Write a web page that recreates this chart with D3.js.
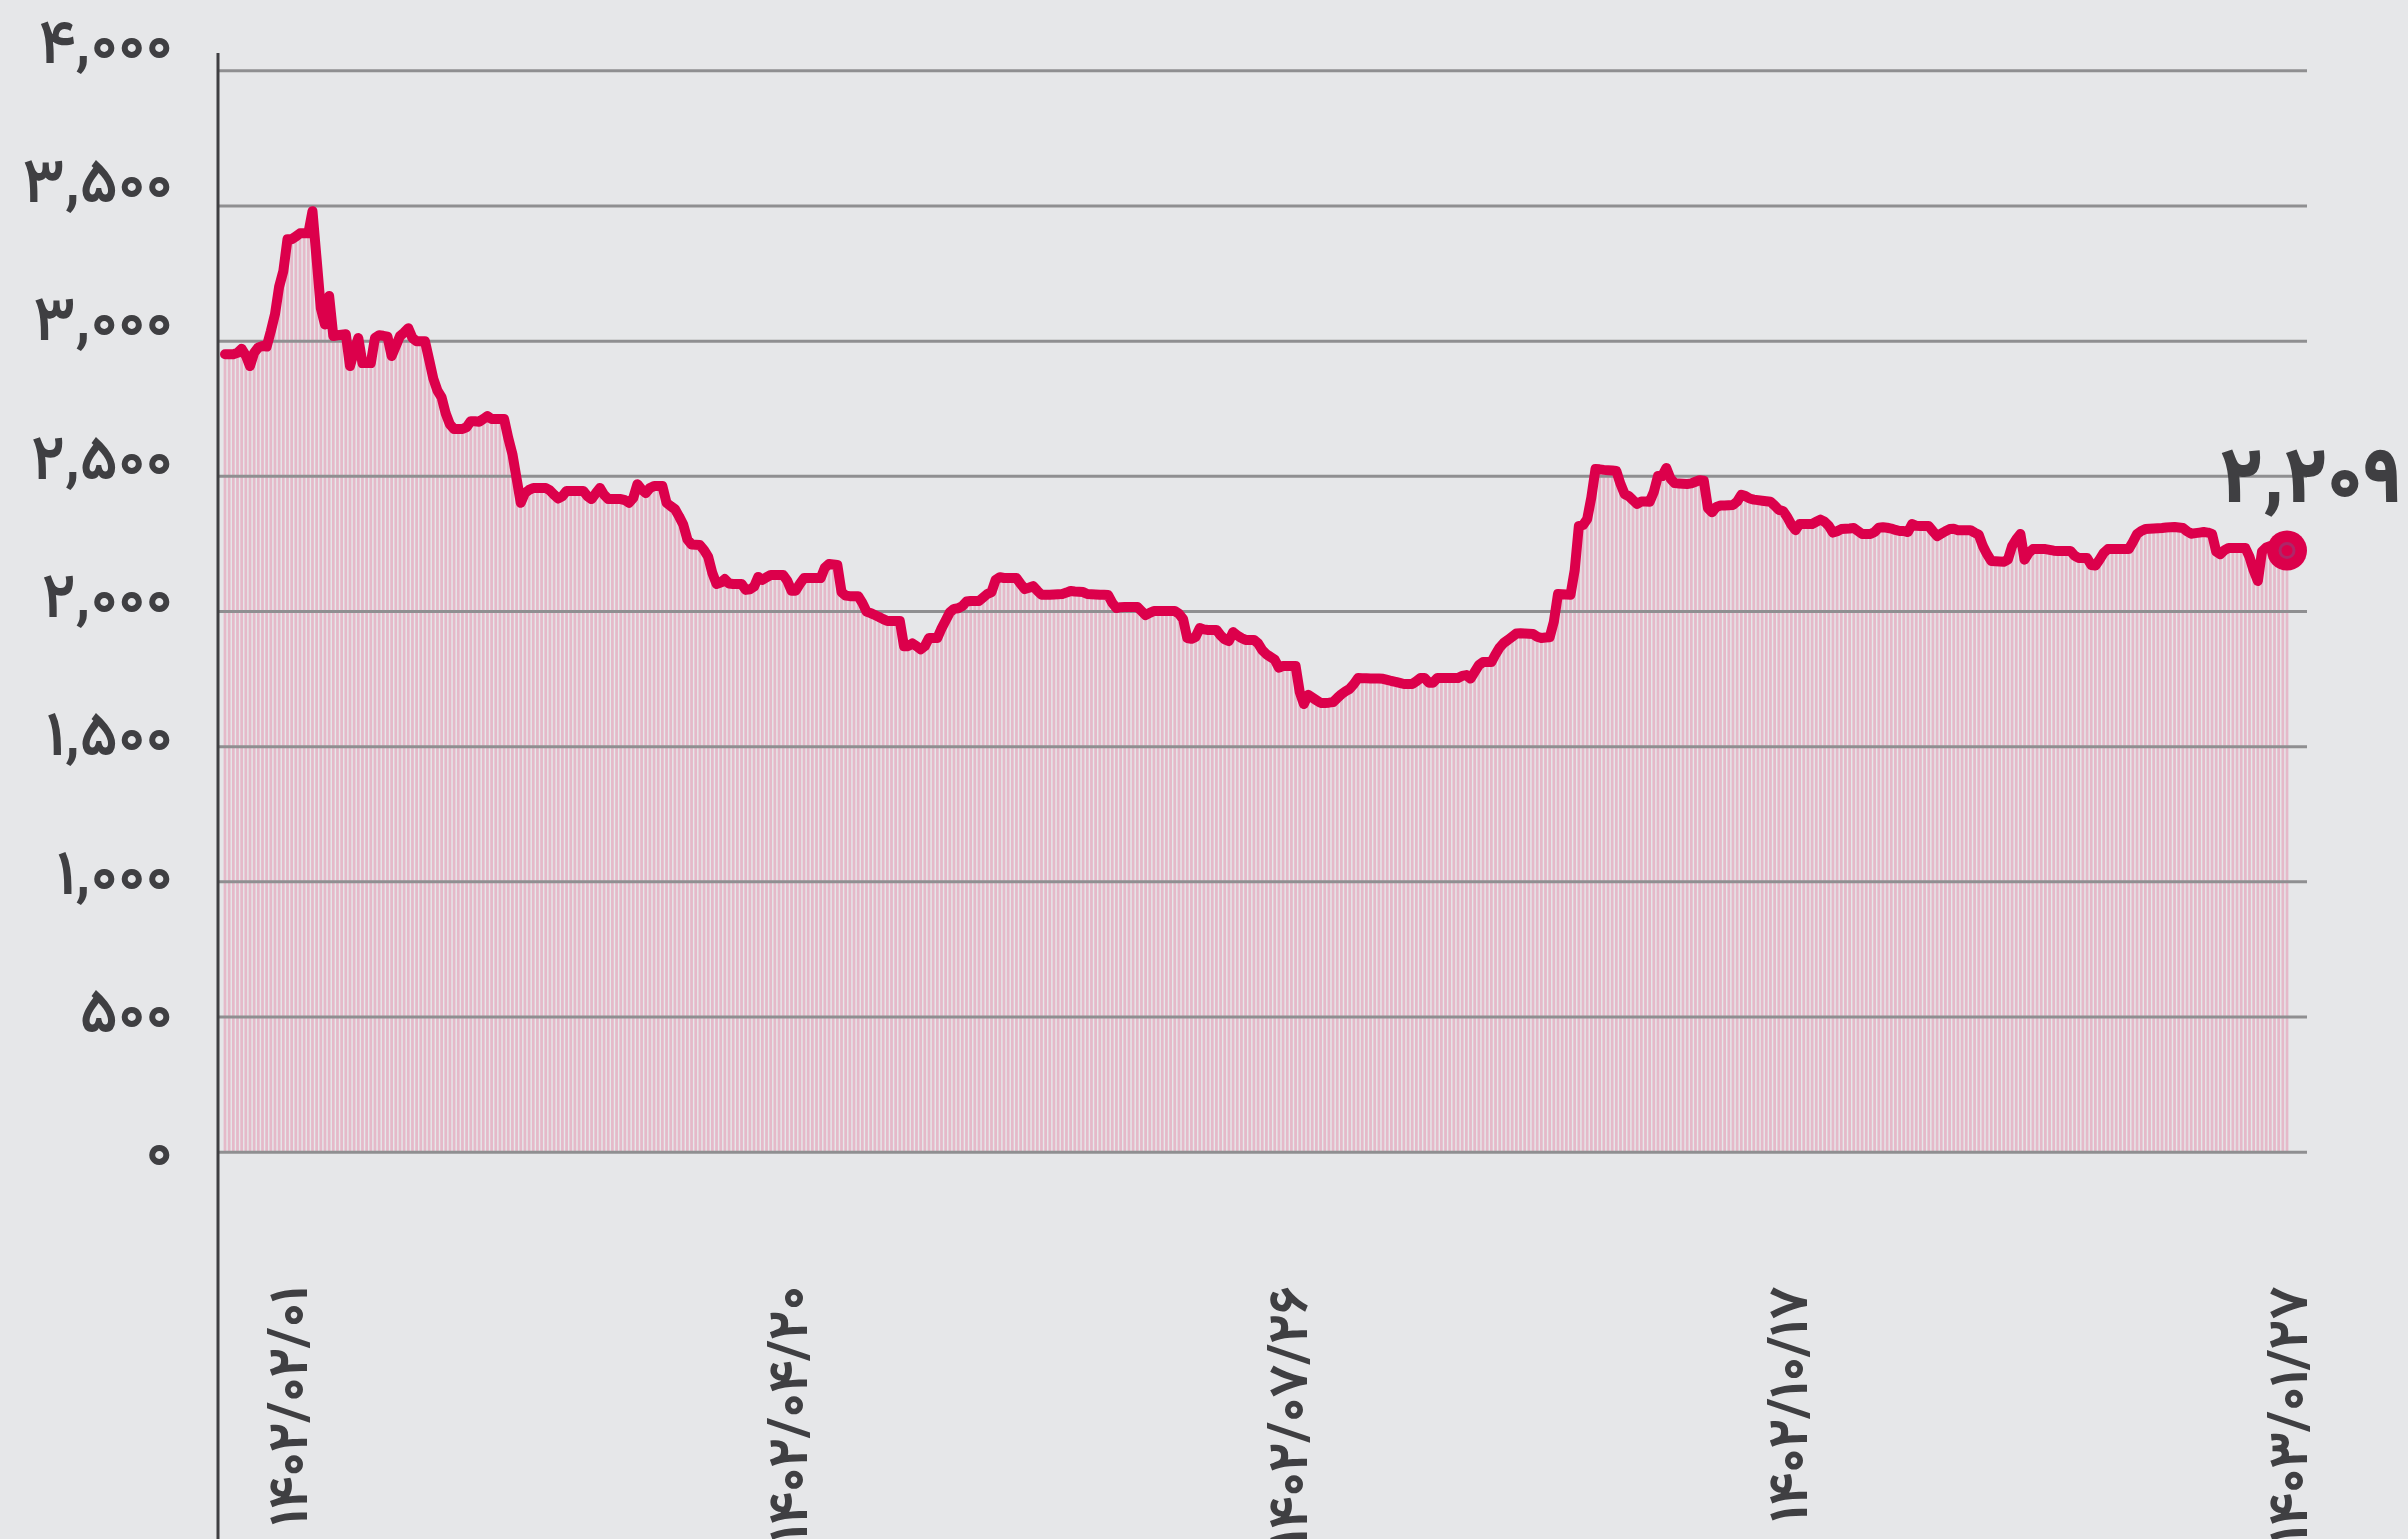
<!DOCTYPE html>
<html><head><meta charset="utf-8">
<script src="https://cdn.jsdelivr.net/npm/d3@7"></script>
<style>
html,body{margin:0;padding:0;background:#e6e7e9;}
svg{display:block;}
</style></head>
<body>
<svg id="chart" width="2408" height="1539"></svg>
<script>
// ---- data ----
const values = [
2950,2950,2950,2955,2970,2945,2906,2955,2975,2980,2978,3035,
3098,3200,3257,3375,3375,3385,3397,3397,3397,3479,3300,3120,
3060,3165,3017,3020,3022,3024,2906,2960,3010,2917,2917,2917,
3010,3020,3018,3015,2943,2980,3017,3030,3046,3010,2998,2998,
2998,2930,2860,2815,2790,2730,2690,2673,2673,2673,2680,2702,
2702,2700,2710,2721,2710,2710,2710,2710,2640,2580,2490,2400,
2436,2448,2455,2455,2455,2455,2446,2430,2416,2425,2444,2444,
2444,2444,2444,2425,2414,2435,2455,2430,2414,2414,2414,2414,
2410,2400,2418,2469,2450,2436,2455,2462,2462,2462,2400,2388,
2377,2350,2320,2265,2246,2245,2244,2225,2200,2140,2100,2105,
2118,2102,2100,2100,2100,2078,2080,2090,2126,2115,2125,2133,
2133,2133,2133,2111,2075,2075,2100,2122,2122,2122,2122,2122,
2160,2174,2172,2170,2070,2057,2055,2055,2055,2030,1998,1992,
1985,1978,1970,1963,1963,1963,1963,1870,1870,1880,1870,1858,
1870,1900,1900,1900,1935,1965,1995,2008,2010,2018,2035,2037,
2037,2037,2050,2063,2070,2115,2125,2122,2122,2122,2122,2100,
2081,2086,2092,2075,2060,2060,2060,2061,2062,2063,2068,2074,
2072,2071,2070,2063,2062,2061,2060,2060,2059,2030,2011,2014,
2015,2015,2015,2015,2000,1985,1993,2000,2000,2000,2000,2000,
2000,1990,1970,1900,1897,1904,1937,1932,1930,1930,1930,1910,
1895,1889,1922,1910,1900,1893,1893,1893,1880,1855,1840,1830,
1820,1790,1797,1797,1797,1797,1700,1656,1690,1680,1670,1660,
1660,1661,1663,1678,1692,1703,1712,1730,1752,1751,1751,1750,
1750,1750,1749,1745,1741,1738,1734,1730,1730,1730,1740,1752,
1752,1735,1735,1752,1752,1752,1752,1752,1752,1760,1763,1750,
1775,1800,1811,1811,1811,1840,1865,1882,1893,1905,1917,1918,
1917,1916,1915,1905,1900,1902,1903,1960,2063,2062,2061,2060,
2150,2314,2318,2340,2420,2525,2524,2522,2521,2520,2518,2470,
2432,2425,2410,2396,2405,2405,2404,2440,2499,2499,2529,2490,
2473,2472,2471,2470,2472,2478,2484,2482,2380,2365,2385,2390,
2390,2391,2392,2405,2430,2425,2416,2412,2410,2408,2406,2404,
2390,2374,2370,2348,2320,2299,2322,2322,2322,2322,2330,2338,
2330,2315,2290,2295,2303,2304,2305,2307,2296,2285,2285,2285,
2292,2308,2310,2308,2305,2300,2296,2296,2292,2322,2315,2314,
2314,2314,2295,2277,2286,2295,2303,2304,2299,2299,2299,2299,
2290,2282,2240,2210,2185,2184,2183,2182,2190,2240,2265,2285,
2190,2215,2229,2229,2229,2229,2226,2223,2222,2222,2222,2222,
2205,2196,2196,2196,2170,2168,2190,2215,2229,2229,2229,2229,
2229,2229,2255,2285,2296,2303,2304,2305,2306,2307,2309,2310,
2311,2309,2307,2295,2286,2288,2290,2292,2290,2285,2220,2210,
2225,2233,2233,2233,2233,2233,2200,2150,2111,2220,2235,2240,
2238,2235,2230,2209
];
const yTickValues = [0,500,1000,1500,2000,2500,3000,3500,4000];
const yTickLabels = ["۰","۵۰۰","۱,۰۰۰","۱,۵۰۰","۲,۰۰۰","۲,۵۰۰","۳,۰۰۰","۳,۵۰۰","۴,۰۰۰"];
const xTickIndex = [15,135,255,375,495];
const xTickLabels = ["۱۴۰۲/۰۲/۰۱","۱۴۰۲/۰۴/۲۰","۱۴۰۲/۰۷/۲۶","۱۴۰۲/۱۰/۱۷","۱۴۰۳/۰۱/۲۷"];
const lastLabel = "۲,۲۰۹";

// ---- layout ----
const svg = d3.select("#chart");
const axisX = 218, gridRight = 2307;
const x = d3.scaleLinear().domain([0, values.length-1]).range([225, 2287]);
const y = d3.scaleLinear().domain([0,4000]).range([1151.7, 70.3]);
const yLab = d3.scaleLinear().domain([0,4000]).range([1151, 44]);
const step = x(1)-x(0);
const FONT = "'Vazirmatn','Noto Sans Arabic','DejaVu Sans', sans-serif";
const textCol = "#3f3f42";
const red = "#dc004b";

svg.append("rect").attr("width",2408).attr("height",1539).attr("fill","#e6e7e9");

// bars
svg.append("g").selectAll("rect").data(values).join("rect")
  .attr("x",(d,i)=>x(i)-step*0.33)
  .attr("width",step*0.66)
  .attr("y",d=>y(d))
  .attr("height",d=>y(0)-y(d))
  .attr("fill","#e5b9c9");

// gridlines
const grid = svg.append("g").attr("transform",`translate(${axisX},0)`)
  .call(d3.axisRight(y).tickValues(yTickValues).tickSize(gridRight-axisX).tickFormat(""));
grid.select(".domain").remove();
grid.selectAll(".tick line").attr("stroke","#8f8f91").attr("stroke-width",3);

// y axis line
svg.append("line").attr("x1",axisX).attr("x2",axisX).attr("y1",53).attr("y2",1539)
  .attr("stroke","#3f3f42").attr("stroke-width",3);

// y labels
const yl = svg.append("g").attr("transform","translate(173,0)")
  .call(d3.axisLeft(yLab).tickValues(yTickValues).tickSize(0).tickPadding(0)
    .tickFormat((d,i)=>yTickLabels[i]));
yl.select(".domain").remove();
yl.selectAll("text").attr("font-family",FONT).attr("font-size",63).attr("font-weight",600)
  .attr("fill",textCol).attr("dy","0.3em").attr("text-anchor","end");

// line
svg.append("path").datum(values)
  .attr("d", d3.line().x((d,i)=>x(i)).y(d=>y(d)))
  .attr("fill","none").attr("stroke",red).attr("stroke-width",10)
  .attr("stroke-linejoin","round").attr("stroke-linecap","round");

// end dot
const li = values.length-1;
svg.append("circle").attr("cx",x(li)).attr("cy",y(values[li])-4).attr("r",20).attr("fill",red);
svg.append("circle").attr("cx",x(li)).attr("cy",y(values[li])-4).attr("r",7)
  .attr("fill","none").attr("stroke","#a3306f").attr("stroke-width",3).attr("opacity",0.8);

// end label
svg.append("text").attr("x",2402).attr("y",502).attr("text-anchor","end")
  .attr("font-family",FONT).attr("font-weight",900).attr("font-size",78)
  .attr("fill",textCol).text(lastLabel);

// x labels (rotated)
svg.append("g").selectAll("text").data(xTickIndex).join("text")
  .attr("transform",d=>`translate(${x(d)},1286) rotate(-90)`)
  .attr("text-anchor","end").attr("dy","0.36em")
  .attr("font-family",FONT).attr("font-size",55).attr("font-weight","bold").attr("fill",textCol)
  .text((d,i)=>xTickLabels[i]);
</script>
</body></html>
